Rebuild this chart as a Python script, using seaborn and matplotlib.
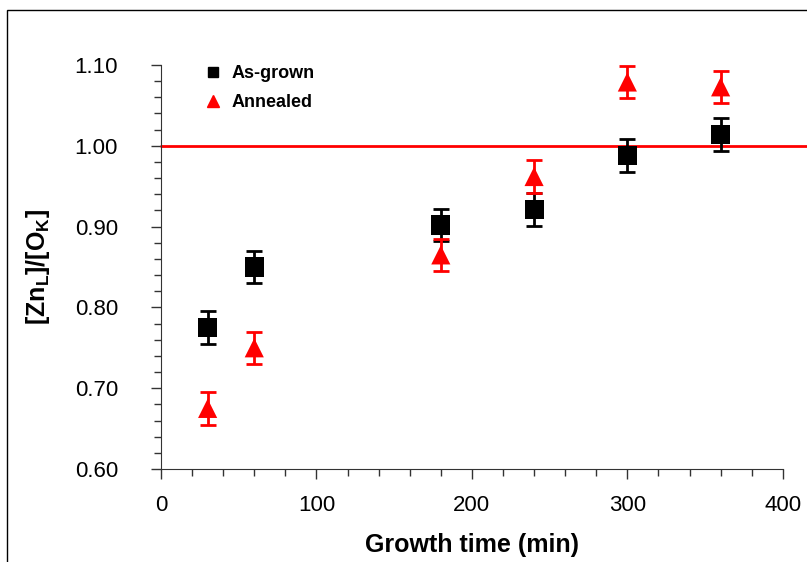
import pandas as pd
import matplotlib
matplotlib.use("Agg")
import matplotlib.pyplot as plt
import seaborn as sns
from matplotlib.ticker import MultipleLocator, FormatStrFormatter
from matplotlib.patches import Rectangle

# data
time_min = [30, 60, 180, 240, 300, 360]
as_grown = [0.775, 0.850, 0.902, 0.921, 0.988, 1.014]
as_grown_err = [0.020, 0.020, 0.020, 0.020, 0.020, 0.020]
annealed = [0.675, 0.750, 0.865, 0.962, 1.079, 1.073]
annealed_err = [0.020, 0.020, 0.020, 0.020, 0.020, 0.020]
ref_ratio = 1.00

sns.set_style("ticks")
plt.rcParams['font.family'] = ['Liberation Sans', 'DejaVu Sans']
plt.rcParams['mathtext.fontset'] = 'custom'
plt.rcParams['mathtext.rm'] = 'Liberation Sans'
plt.rcParams['mathtext.bf'] = 'Liberation Sans:bold'
plt.rcParams['text.color'] = 'black'
plt.rcParams['axes.labelcolor'] = 'black'
plt.rcParams['xtick.labelcolor'] = 'black'
plt.rcParams['ytick.labelcolor'] = 'black'

df = pd.DataFrame({
    'time': time_min * 2,
    'ratio': as_grown + annealed,
    'err': as_grown_err + annealed_err,
    'sample': ['As-grown'] * len(time_min) + ['Annealed'] * len(time_min),
})

fig = plt.figure(figsize=(8.07, 5.62), dpi=100)
ax = fig.add_axes([0.1995, 0.1655, 0.7705, 0.7188])

# frame round the whole picture
fig.patches.append(Rectangle((0.009, -0.01), 1.1, 0.992, transform=fig.transFigure,
                             fill=False, edgecolor='black', linewidth=1.0))

ax.axhline(ref_ratio, xmin=0, xmax=1.04, color='red', linewidth=2, clip_on=False, zorder=1)

colors = {'As-grown': 'black', 'Annealed': 'red'}
for name, grp in df.groupby('sample', sort=False):
    ax.errorbar(grp['time'], grp['ratio'], yerr=grp['err'], fmt='none',
                ecolor=colors[name], elinewidth=2, capsize=6, capthick=2, zorder=2)

sns.scatterplot(data=df, x='time', y='ratio', hue='sample', style='sample',
                palette=colors, markers={'As-grown': 's', 'Annealed': '^'},
                s=190, edgecolor='none', ax=ax, zorder=3, legend=False)

# legend built by hand to match the small markers
ax.plot([], [], 's', color='black', markersize=7, label='As-grown')
ax.plot([], [], '^', color='red', markersize=8, label='Annealed')
leg = ax.legend(loc='upper left', bbox_to_anchor=(0.043, 1.04), frameon=False,
                handletextpad=0.55, labelspacing=0.65, handlelength=1.0,
                prop={'weight': 'bold', 'size': 13})

ax.set_xlim(0, 400)
ax.set_ylim(0.60, 1.10)
ax.xaxis.set_major_locator(MultipleLocator(100))
ax.xaxis.set_minor_locator(MultipleLocator(20))
ax.yaxis.set_major_locator(MultipleLocator(0.10))
ax.yaxis.set_minor_locator(MultipleLocator(0.02))
ax.yaxis.set_major_formatter(FormatStrFormatter('%.2f'))
ax.tick_params(which='both', direction='out', width=1, color='#333333')
ax.tick_params(which='major', length=7, labelsize=16)
ax.tick_params(axis='y', which='major', pad=24)
ax.tick_params(axis='x', which='major', pad=12)
ax.tick_params(which='minor', length=5)
sns.despine(ax=ax)
ax.spines['left'].set_color('#333333')
ax.spines['bottom'].set_color('#333333')

ax.set_xlabel('Growth time (min)', fontsize=18, fontweight='bold', labelpad=12)
ax.set_ylabel(r'[Zn$_\mathbf{L}$]/[O$_\mathbf{K}$]', fontsize=18, fontweight='bold', labelpad=16)

fig.savefig('out.png', dpi=100)
